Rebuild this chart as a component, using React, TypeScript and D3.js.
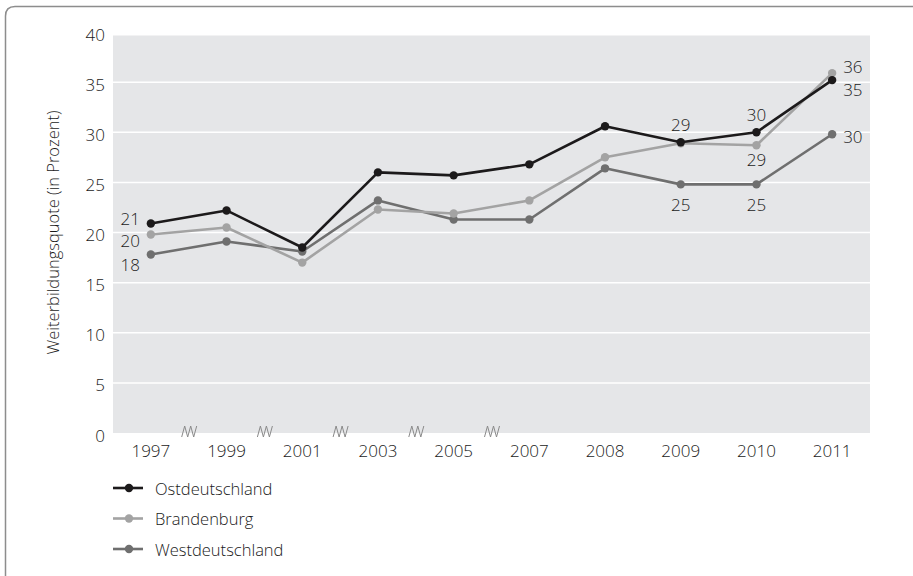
import React from "react";
import * as d3 from "d3";

// Weiterbildungsquote nach Region, 1997–2011
const years = ["1997", "1999", "2001", "2003", "2005", "2007", "2008", "2009", "2010", "2011"];
const ostdeutschland = [20.9, 22.2, 18.5, 26.0, 25.7, 26.8, 30.6, 29.0, 30.0, 35.2];
const brandenburg = [19.8, 20.5, 17.0, 22.3, 21.9, 23.2, 27.5, 28.9, 28.7, 35.9];
const westdeutschland = [17.8, 19.1, 18.1, 23.2, 21.3, 21.3, 26.4, 24.8, 24.8, 29.8];
const yTicks = [0, 5, 10, 15, 20, 25, 30, 35, 40];
// gaps in the time axis sit after these years
const breakAfter = ["1997", "1999", "2001", "2003", "2005"];

const W = 913;
const H = 576;
const FONT = "'Open Sans', 'Noto Sans', sans-serif";
const WEIGHT = 300;
const TEXT = "#1a1a1a";

type Series = { name: string; values: number[]; color: string };
const series: Series[] = [
  { name: "Ostdeutschland", values: ostdeutschland, color: "#1c1a1b" },
  { name: "Brandenburg", values: brandenburg, color: "#a3a3a3" },
  { name: "Westdeutschland", values: westdeutschland, color: "#6f6f6f" },
];

// value labels: series index, year index, placement
type Ann = { s: number; i: number; pos: "left" | "right" | "above" | "below"; dy?: number };
const annotations: Ann[] = [
  { s: 0, i: 0, pos: "left", dy: -5 },
  { s: 1, i: 0, pos: "left", dy: 6 },
  { s: 2, i: 0, pos: "left", dy: 10 },
  { s: 0, i: 7, pos: "above" },
  { s: 2, i: 7, pos: "below" },
  { s: 0, i: 8, pos: "above" },
  { s: 1, i: 8, pos: "below", dy: -6 },
  { s: 2, i: 8, pos: "below" },
  { s: 1, i: 9, pos: "right", dy: -7 },
  { s: 0, i: 9, pos: "right", dy: 9 },
  { s: 2, i: 9, pos: "right", dy: 2 },
];

export default function App() {
  const plotLeft = 113;
  const plotRight = 870;
  const x = d3.scalePoint<string>().domain(years).range([plotLeft, plotRight]).padding(0.5);
  const y = d3.scaleLinear().domain([0, 40]).range([433, 32]);
  const step = x.step();
  const line = d3
    .line<number>()
    .x((_, i) => x(years[i]) as number)
    .y((d) => y(d));
  const fmt = d3.format(".0f");

  const zigzag = (cx: number, cy: number) =>
    `M${cx - 7},${cy + 5} L${cx - 4},${cy - 6} L${cx - 1},${cy + 5} L${cx + 2},${cy - 6} L${cx + 5},${cy + 5} L${cx + 8},${cy - 6}`;

  return (
    <div style={{ position: "absolute", left: 0, top: 0, width: W, height: H, background: "#fff" }}>
      <svg width={W} height={H} style={{ display: "block" }} fontFamily={FONT} fontWeight={WEIGHT}>
        {/* frame */}
        <path
          d={`M5.5,${H + 10} L5.5,16 Q5.5,6.5 15,6.5 L${W + 10},6.5`}
          fill="none"
          stroke="#8d8d8d"
          strokeWidth={1.5}
        />
        {/* plot background */}
        <rect x={plotLeft} y={35.5} width={plotRight - plotLeft} height={y(0) - 35.5} fill="#e5e6e8" />
        {yTicks
          .filter((t) => t > 0 && t < 40)
          .map((t) => (
            <line key={t} x1={plotLeft} x2={plotRight} y1={y(t)} y2={y(t)} stroke="#ffffff" strokeWidth={1.5} />
          ))}
        {/* y axis labels */}
        {yTicks.map((t) => (
          <text
            key={t}
            x={105}
            y={y(t) + 2}
            textAnchor="end"
            dominantBaseline="central"
            fontSize={17}
            fill={TEXT}
          >
            {t}
          </text>
        ))}
        <text
          transform={`translate(59,${(y(0) + y(40)) / 2}) rotate(-90)`}
          textAnchor="middle"
          fontSize={16.5}
          fill={TEXT}
        >
          Weiterbildungsquote (in Prozent)
        </text>
        {/* x axis labels */}
        {years.map((yr) => (
          <text key={yr} x={x(yr)} y={457} textAnchor="middle" fontSize={17} fill={TEXT}>
            {yr}
          </text>
        ))}
        {/* axis break marks */}
        {breakAfter.map((yr) => (
          <path
            key={yr}
            d={zigzag((x(yr) as number) + step / 2, 432)}
            fill="none"
            stroke="#8a8a8a"
            strokeWidth={1}
          />
        ))}
        {/* series lines and points, darkest drawn last */}
        {[2, 1, 0].map((si) => {
          const s = series[si];
          return (
            <g key={s.name}>
              <path d={line(s.values) ?? ""} fill="none" stroke={s.color} strokeWidth={2.6} strokeLinejoin="round" />
              {s.values.map((v, i) => (
                <circle key={i} cx={x(years[i])} cy={y(v)} r={4.2} fill={s.color} />
              ))}
            </g>
          );
        })}
        {/* value labels */}
        {annotations.map((a, k) => {
          const v = series[a.s].values[a.i];
          const px = x(years[a.i]) as number;
          const py = y(v);
          let tx = px;
          let ty = py;
          let anchor: "start" | "middle" | "end" = "middle";
          if (a.pos === "left") {
            tx = px - 11;
            anchor = "end";
          } else if (a.pos === "right") {
            tx = px + 11;
            anchor = "start";
          } else if (a.pos === "above") {
            ty = py - 18;
          } else {
            ty = py + 20;
          }
          ty += a.dy ?? 0;
          return (
            <text
              key={k}
              x={tx}
              y={ty}
              textAnchor={anchor}
              dominantBaseline="central"
              fontSize={17}
              fill={TEXT}
            >
              {fmt(v)}
            </text>
          );
        })}
        {/* legend */}
        {series.map((s, i) => {
          const ly = 488 + i * 30.5;
          return (
            <g key={s.name}>
              <line x1={113} x2={143} y1={ly} y2={ly} stroke={s.color} strokeWidth={2.6} />
              <circle cx={129} cy={ly} r={4.2} fill={s.color} />
              <text x={155} y={ly} dominantBaseline="central" fontSize={16.5} fill={TEXT}>
                {s.name}
              </text>
            </g>
          );
        })}
      </svg>
    </div>
  );
}
